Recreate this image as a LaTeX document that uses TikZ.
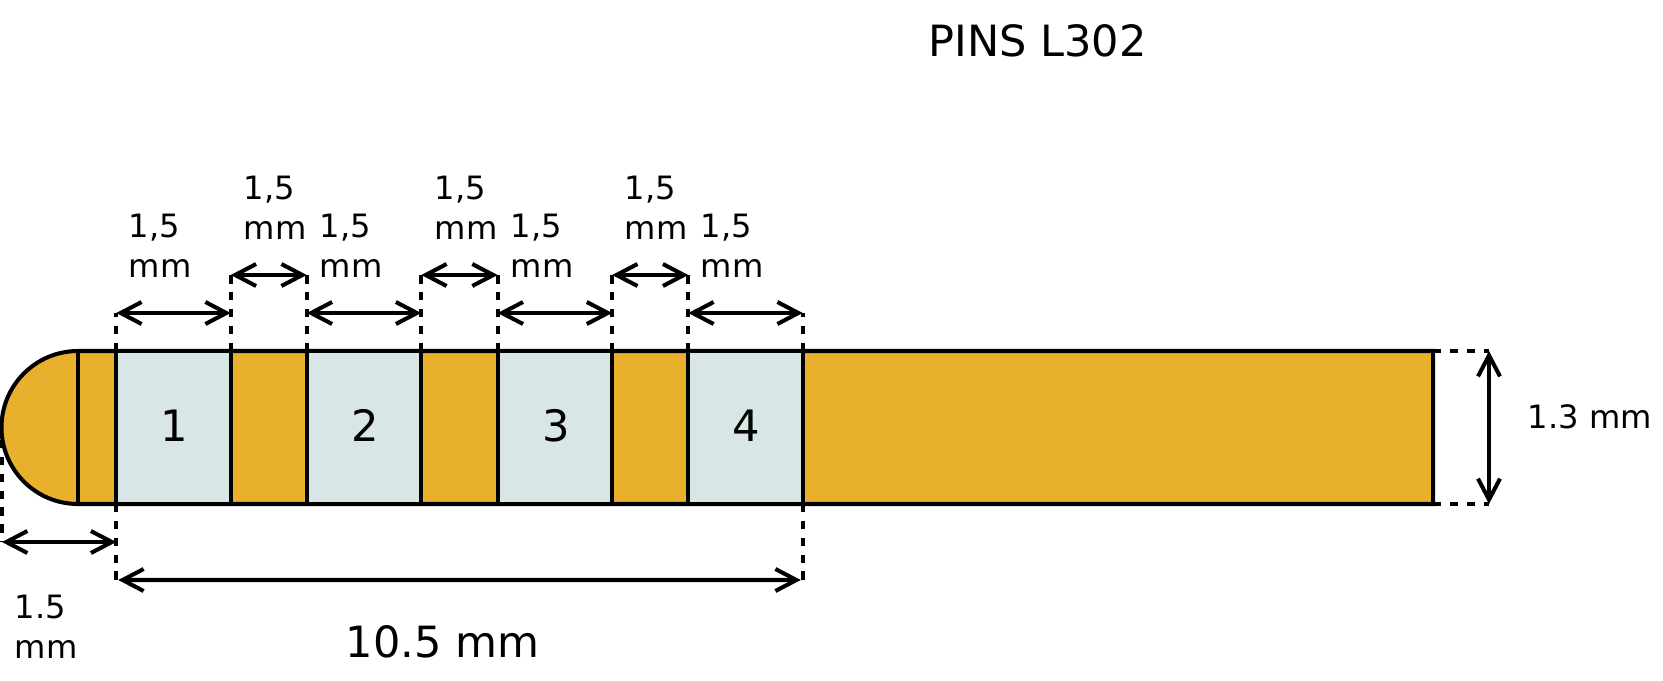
\documentclass[tikz,border=0pt]{standalone}
\usepackage{fontspec}
\setmainfont{DejaVu Sans}
\usetikzlibrary{arrows.meta}
\definecolor{goldpin}{HTML}{E9B02D}
\definecolor{padgray}{HTML}{D8E6E5}
\tikzset{
    pinline/.style={black,line width=1.15pt},
    padbox/.style={draw=black,line width=1.15pt,fill=padgray,rectangle,inner sep=0pt,outer sep=0pt,
        minimum width=1.145cm,minimum height=1.53cm,text depth=0.04cm,font=\fontsize{12.3}{14}\selectfont},
    dimdash/.style={black,line width=1.15pt,dash pattern=on 2.4pt off 2.4pt},
    dimarrow/.style={black,line width=1.15pt,{Straight Barb[length=2.1mm,width=2.2mm]}-{Straight Barb[length=2.1mm,width=2.2mm]}},
    smalltext/.style={align=left,anchor=west,inner sep=0pt,font=\fontsize{9.15}{11.4}\selectfont},
    bigtext/.style={inner sep=0pt,font=\fontsize{12.25}{14}\selectfont}
}
\begin{document}
\begin{tikzpicture}
    \useasboundingbox (0,0) rectangle (16.63,6.80);
    % cuerpo del pin
    \draw[pinline,fill=goldpin] (0.78,1.76) coordinate (tipbot) arc (-90:-270:0.765) coordinate (tiptop)
        -- (14.33,3.29) coordinate (endtop) -- (14.33,1.76) coordinate (endbot) -- cycle;
    \draw[pinline] (tiptop) -- (tipbot);
    \coordinate (tipleft) at (0.02,2.40);

    % contactos
    \foreach \x/\n in {1.735/1,3.640/2,5.549/3,7.455/4}
    \node[padbox] (pad\n) at (\x,2.525) {\kern0.2mm\n};

    % cotas de arriba
    \foreach \n in {1,2,3,4} {
        \path (pad\n.north west) ++(0,0.38) coordinate (lowl\n) ++(0,0.38) coordinate (highl\n);
        \path (pad\n.north east) ++(0,0.38) coordinate (lowr\n) ++(0,0.38) coordinate (highr\n);
        \draw[dimarrow] (lowl\n) -- (lowr\n);
    }
    \draw[dimdash] (pad1.north west) -- (lowl1);
    \draw[dimdash] (pad4.north east) -- (lowr4);
    \foreach \a/\b in {1/2,2/3,3/4} {
        \draw[dimdash] (pad\a.north east) -- (highr\a);
        \draw[dimdash] (pad\b.north west) -- (highl\b);
        \draw[dimarrow] (highr\a) -- (highl\b);
    }

    % cotas de abajo
    \path (pad1.south west) ++(0,-0.38) coordinate (botl) ++(0,-0.38) coordinate (longl);
    \path (pad4.south east) ++(0,-0.76) coordinate (longr);
    \path (tipleft |- botl) coordinate (tipdim);
    \draw[dimdash] (tipleft) -- (tipdim);
    \draw[dimdash] (pad1.south west) -- (longl);
    \draw[dimdash] (pad4.south east) -- (longr);
    \draw[dimarrow] (tipdim) -- (botl);
    \draw[dimarrow,shorten <=0.02cm,shorten >=0.02cm] (longl) -- (longr);

    % cota de la derecha
    \coordinate (hgt top) at (14.89,3.29);
    \coordinate (hgt bot) at (14.89,1.76);
    \draw[dimdash] (endtop) -- (hgt top);
    \draw[dimdash] (endbot) -- (hgt bot);
    \draw[dimarrow] (hgt top) -- (hgt bot);

    % textos
    \node[bigtext] (title) at (10.375,6.39) {PINS L302};
    \node[bigtext] (long text) at (4.425,0.38) {10.5 mm};
    \node[smalltext] (tip text) at (0.14,0.53) {1.5\\mm};
    \node[smalltext] (hgt text) at (15.27,2.635) {1.3 mm};
    \foreach \x/\n in {1.28/1,3.19/2,5.10/3,7.00/4}
    \node[smalltext] (low text\n) at (\x,4.345) {1,5\\mm};
    \foreach \x/\n in {2.43/1,4.34/2,6.24/3}
    \node[smalltext] (high text\n) at (\x,4.725) {1,5\\mm};
\end{tikzpicture}
\end{document}
